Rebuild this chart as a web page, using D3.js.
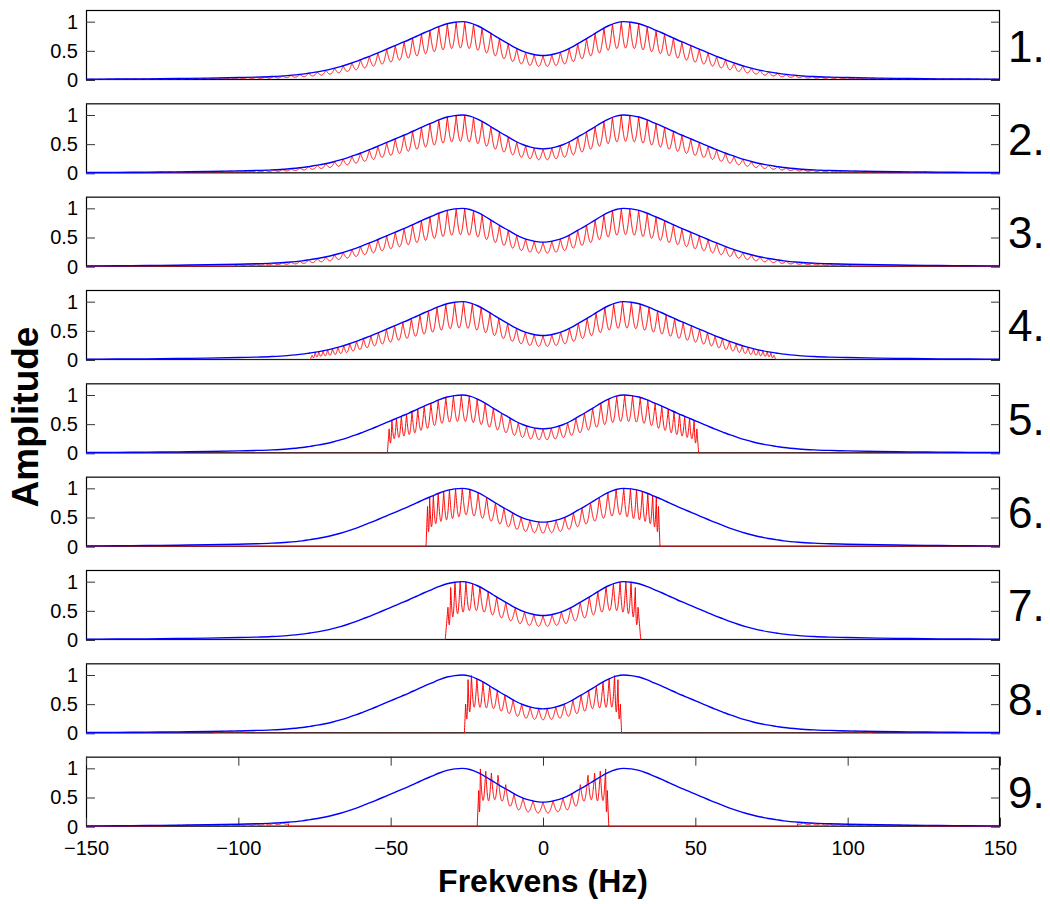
<!DOCTYPE html>
<html>
<head>
<meta charset="utf-8">
<script src="https://cdn.jsdelivr.net/npm/d3@7"></script>
<style>
  body { margin: 0; background: #fff; }
  svg { display: block; }
  text { font-family: "Liberation Sans", Arial, Helvetica, sans-serif; fill: #000; }
</style>
</head>
<body>
<svg id="chart" width="1050" height="904"></svg>
<script>
// ---------------------------------------------------------------------------
// Data
// ---------------------------------------------------------------------------

// Spectral envelope (blue), positive-frequency side; the spectrum is symmetric about 0 Hz.
const envHz  = [0, 1.5, 4, 6.5, 9, 11.5, 14, 16.5, 19, 21.5, 24, 26.5, 29, 31.5, 34, 36.5, 39, 41.5, 44, 46.5,
  49, 51.5, 54, 56.5, 59, 61.5, 64, 66.5, 69, 71.5, 74, 76.5, 79, 84, 89, 94, 100, 110, 120, 130, 140, 150];
const envAmp = [0.42, 0.425, 0.45, 0.49, 0.55, 0.625, 0.70, 0.78, 0.86, 0.93, 0.98, 1.0, 0.99, 0.965, 0.92, 0.865,
  0.81, 0.75, 0.69, 0.635, 0.58, 0.525, 0.47, 0.415, 0.365, 0.315, 0.27, 0.23, 0.195, 0.165, 0.14, 0.12, 0.10,
  0.075, 0.06, 0.05, 0.042, 0.032, 0.025, 0.02, 0.016, 0.013];

// Comb peak frequencies (positive side, mirrored for negative frequencies).
// A plain number is a peak that reaches the envelope; a pair [Hz, amplitude] has its own height.
const combUniform = [0, 2.9, 5.7, 8.6, 11.4, 14.3, 17.1, 20.0, 22.8, 25.7, 28.5, 31.4, 34.2, 37.1, 39.9, 42.8,
  45.6, 48.5, 51.3, 54.2, 57.0, 59.9, 62.7, 65.6, 68.4, 71.3, 74.1, 77.0, 79.8, 82.7, 85.5, 88.4, 91.2,
  94.1, 96.9, 99.8, 102.6, 105.5, 108.3, 111.2, 114.0, 116.9, 119.7, 122.6, 125.4, 128.3, 131.1, 134.0,
  136.8, 139.7, 142.5, 145.4, 148.2];
const comb4 = [0, 2.9, 5.8, 8.7, 11.6, 14.5, 17.4, 20.3, 23.2, 26.1, 29.0, 31.9, 34.8, 37.6, 40.4, 43.2, 46.0,
  48.7, 51.4, 54.0, 56.5, 58.9, 61.2, 63.4, 65.4, 67.3, 69.1, 70.7, 72.2, 73.6, 74.8, [75.8, 0.08]];
const comb5 = [0, 2.7, 5.4, 8.1, 10.8, 13.6, 16.3, 19.0, 21.6, 24.2, 26.8, 29.4, 31.9, 34.4, 36.8, 39.0, 41.1,
  43.0, 44.8, 46.5, 48.1, 49.6, [50.5, 0.42]];
const comb6 = [1.4, 4.3, 7.2, 10.0, 12.8, 15.6, 18.5, 21.3, 24.0, 26.5, 28.7, 30.7, 32.6, 34.4, 36.0, 37.2, [37.9, 0.69]];
const comb7 = [0, 3.0, 6.05, 9.1, 12.2, 15.2, 18.0, 20.7, 23.1, 25.3, 27.2, 28.9, [30.3, 0.9], [31.2, 0.56]];
const comb8 = [1.4, 4.2, 7.0, 9.8, 12.5, 15.0, 17.5, 19.7, 21.7, [23.5, 0.99], [24.6, 0.92], [25.4, 0.5]];
const comb9 = [0, 3.28, 6.55, 9.5, [12.24, 0.72], [14.75, 0.88], [16.94, 0.92], [18.8, 0.95], [20.56, 0.99], [21.1, 0.62]];

const panelLabels = ["1.", "2.", "3.", "4.", "5.", "6.", "7.", "8.", "9."];
const panelCombs  = [combUniform, combUniform, combUniform, comb4, comb5, comb6, comb7, comb8, comb9];
const cutoffHz    = [150, 127, 101, 76.5, 51.1, 38.4, 32.1, 25.8, 21.6];
// Folded-back bands (|f| ranges) where the comb shows up again near the baseline.
const aliasBands  = [[], [], [], [], [], [], [], [[98, 108]], [[83.5, 125.5]]];

const xTicks = [-150, -100, -50, 0, 50, 100, 150];
const yTicks = [0, 0.5, 1];

// ---------------------------------------------------------------------------
// Layout
// ---------------------------------------------------------------------------
const plotLeft = 86, plotRight = 1000;
const firstTop = 10, panelPitch = 93.333, panelH = 70;
const tickLen = 9;

const svg = d3.select("#chart");
const x = d3.scaleLinear().domain([-150, 150]).range([plotLeft, plotRight]);

// Full symmetric envelope table
const fullHz  = envHz.slice(1).map(d => -d).reverse().concat(envHz);
const fullAmp = envAmp.slice(1).reverse().concat(envAmp);

// Monotone cubic (Steffen) interpolation of the envelope, same family as d3.curveMonotoneX
const envSlopes = (() => {
  const n = fullHz.length, m = new Array(n);
  for (let i = 0; i < n; i++) {
    if (i === 0) { m[i] = (fullAmp[1] - fullAmp[0]) / (fullHz[1] - fullHz[0]); continue; }
    if (i === n - 1) { m[i] = (fullAmp[n - 1] - fullAmp[n - 2]) / (fullHz[n - 1] - fullHz[n - 2]); continue; }
    const h0 = fullHz[i] - fullHz[i - 1], h1 = fullHz[i + 1] - fullHz[i];
    const s0 = (fullAmp[i] - fullAmp[i - 1]) / h0, s1 = (fullAmp[i + 1] - fullAmp[i]) / h1;
    const p = (s0 * h1 + s1 * h0) / (h0 + h1);
    m[i] = (Math.sign(s0) + Math.sign(s1)) * Math.min(Math.abs(s0), Math.abs(s1), 0.5 * Math.abs(p)) || 0;
  }
  return m;
})();
const bisHz = d3.bisector(d => d).right;
function envAt(f) {
  let i = bisHz(fullHz, f) - 1;
  i = Math.max(0, Math.min(fullHz.length - 2, i));
  const x0 = fullHz[i], x1 = fullHz[i + 1], h = x1 - x0, t = (f - x0) / h;
  const y0 = fullAmp[i], y1 = fullAmp[i + 1];
  const h00 = 2 * t * t * t - 3 * t * t + 1, h10 = t * t * t - 2 * t * t + t;
  const h01 = -2 * t * t * t + 3 * t * t, h11 = t * t * t - t * t;
  return h00 * y0 + h10 * h * envSlopes[i] + h01 * y1 + h11 * h * envSlopes[i + 1];
}

// Mirror a positive-side peak list into a full sorted list with gains relative to the envelope
function buildPeaks(list) {
  const pos = list.map(p => Array.isArray(p) ? { hz: p[0], amp: p[1] } : { hz: p, amp: null });
  const neg = pos.filter(p => p.hz > 0).map(p => ({ hz: -p.hz, amp: p.amp })).reverse();
  return neg.concat(pos).map(p => ({ hz: p.hz, g: p.amp == null ? 1 : p.amp / envAt(p.hz) }));
}
const bisPeak = d3.bisector(d => d.hz).right;

// Comb shape between two neighbouring peaks: pointed tops, rounded troughs
function combBetween(f, P) {
  const i = Math.min(P.length - 2, Math.max(0, bisPeak(P, f) - 1));
  const a = P[i], b = P[i + 1];
  const gap = b.hz - a.hz, t = (f - a.hz) / gap;
  const trough = Math.min(0.55, 0.25 + 0.12 * gap);
  const g = a.g + (b.g - a.g) * t;
  return envAt(f) * g * (1 - (1 - trough) * Math.sin(Math.PI * t));
}

const uniformPeaks = buildPeaks(combUniform);

function redValue(f, P, cut, bands) {
  const af = Math.abs(f);
  if (af > cut) {
    for (const [lo, hi] of bands) {
      if (af >= lo && af <= hi) return combBetween(f, uniformPeaks);
    }
    return 0;
  }
  const first = P[0], last = P[P.length - 1];
  if (f < first.hz) return envAt(f) * first.g * (f + cut) / (first.hz + cut);
  if (f > last.hz) return envAt(f) * last.g * (cut - f) / (cut - last.hz);
  return combBetween(f, P);
}

// ---------------------------------------------------------------------------
// Panels
// ---------------------------------------------------------------------------
const baseGrid = d3.range(-150, 150.0001, 0.04);

panelLabels.forEach((label, i) => {
  const top = firstTop + i * panelPitch;
  const bottom = top + panelH;
  const y = d3.scaleLinear().domain([0, 1.2]).range([bottom, top]);
  const g = svg.append("g").attr("class", "panel");

  const clipId = "clip" + i;
  svg.append("clipPath").attr("id", clipId)
    .append("rect").attr("x", plotLeft).attr("y", top - 2).attr("width", plotRight - plotLeft).attr("height", panelH + 2);

  // Frame
  g.append("rect")
    .attr("x", plotLeft + 0.5).attr("y", top + 0.5)
    .attr("width", plotRight - plotLeft - 1).attr("height", panelH - 1)
    .attr("fill", "#fff").attr("stroke", "#000").attr("stroke-width", 1.2);

  // Y axes (ticks pointing inward on both sides)
  const yl = g.append("g").attr("transform", `translate(${plotLeft},0)`)
    .call(d3.axisLeft(y).tickValues(yTicks).tickSize(-tickLen).tickPadding(8).tickFormat(d => String(d)));
  const yr = g.append("g").attr("transform", `translate(${plotRight},0)`)
    .call(d3.axisRight(y).tickValues(yTicks).tickSize(-tickLen).tickFormat(""));
  [yl, yr].forEach(ax => {
    ax.select(".domain").remove();
    ax.selectAll("line").attr("stroke", "#333");
    ax.selectAll("text").attr("font-size", 20).attr("font-family", "Liberation Sans, Arial, sans-serif");
  });

  // X axes only on the bottom panel
  if (i === panelLabels.length - 1) {
    const xb = g.append("g").attr("transform", `translate(0,${bottom})`)
      .call(d3.axisBottom(x).tickValues(xTicks).tickSize(-tickLen).tickPadding(14));
    const xt = g.append("g").attr("transform", `translate(0,${top})`)
      .call(d3.axisTop(x).tickValues(xTicks).tickSize(-tickLen).tickFormat(""));
    [xb, xt].forEach(ax => {
      ax.select(".domain").remove();
      ax.selectAll("line").attr("stroke", "#333");
      ax.selectAll("text").attr("font-size", 20).attr("font-family", "Liberation Sans, Arial, sans-serif");
    });
  }

  // Red comb spectrum
  const P = buildPeaks(panelCombs[i]);
  const cut = cutoffHz[i];
  const bands = aliasBands[i];
  let fs = baseGrid.concat(P.map(p => p.hz), [-cut, cut]);
  bands.forEach(([lo, hi]) => { fs.push(lo, -lo, hi, -hi, lo - 1e-6, -lo + 1e-6, hi + 1e-6, -hi - 1e-6); });
  fs = Array.from(new Set(fs.map(v => +v.toFixed(6)))).sort((a, b) => a - b);
  const redPts = fs.map(f => [f, redValue(f, P, cut, bands)]);

  const line = d3.line().x(d => x(d[0])).y(d => y(d[1]));
  g.append("path").datum(redPts)
    .attr("clip-path", `url(#${clipId})`)
    .attr("d", line).attr("fill", "none").attr("stroke", "#ff0000").attr("stroke-width", 1);

  // Blue envelope
  const envPts = fullHz.map((f, k) => [f, fullAmp[k]]);
  g.append("path").datum(envPts)
    .attr("clip-path", `url(#${clipId})`)
    .attr("d", d3.line().x(d => x(d[0])).y(d => y(d[1])).curve(d3.curveMonotoneX))
    .attr("fill", "none").attr("stroke", "#0000ff").attr("stroke-width", 1.4);

  // Panel number
  g.append("text")
    .attr("x", 1008).attr("y", (top + bottom) / 2 + 16.5)
    .attr("font-size", 44)
    .text(label);
});

// Axis titles
svg.append("text")
  .attr("transform", "translate(38,417) rotate(-90)")
  .attr("text-anchor", "middle")
  .attr("font-size", 37).attr("font-weight", "bold")
  .text("Amplitude");

svg.append("text")
  .attr("x", 543).attr("y", 892)
  .attr("text-anchor", "middle")
  .attr("font-size", 32).attr("font-weight", "bold")
  .text("Frekvens (Hz)");
</script>
</body>
</html>
